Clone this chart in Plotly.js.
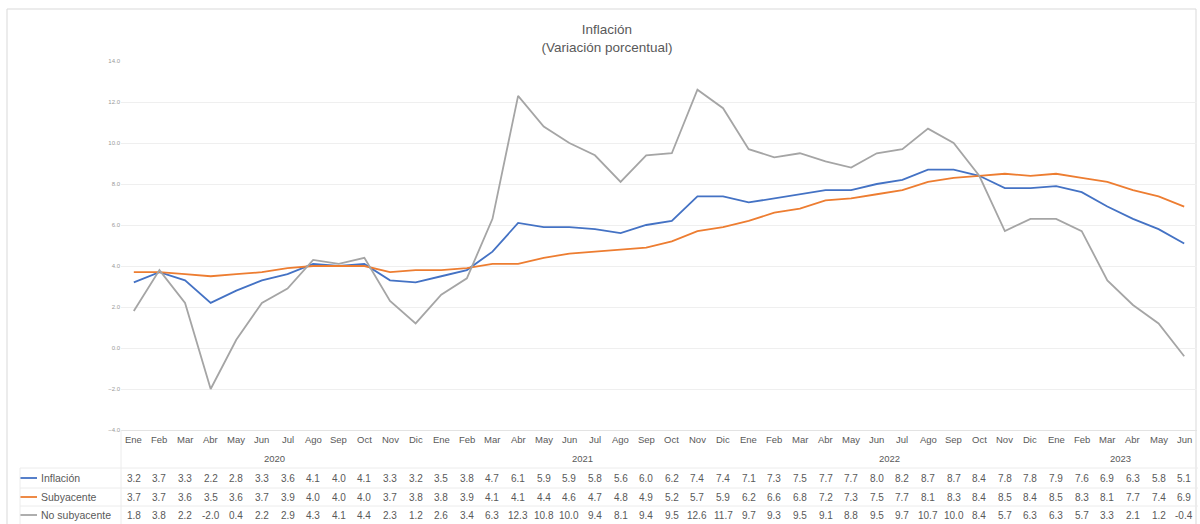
<!DOCTYPE html>
<html>
<head>
<meta charset="utf-8">
<script src="https://cdn.plot.ly/plotly-3.0.1.min.js"></script>
<style>html,body{margin:0;padding:0;background:#fff;}#chart{width:1200px;height:524px;}</style>
</head>
<body>
<div id="chart"></div>
<script>
const months = ['Ene','Feb','Mar','Abr','May','Jun','Jul','Ago','Sep','Oct','Nov','Dic',
                'Ene','Feb','Mar','Abr','May','Jun','Jul','Ago','Sep','Oct','Nov','Dic',
                'Ene','Feb','Mar','Abr','May','Jun','Jul','Ago','Sep','Oct','Nov','Dic',
                'Ene','Feb','Mar','Abr','May','Jun'];
const years = ['2020','2021','2022','2023'];
const monthsPerYear = [12, 12, 12, 6];
const inflacion = [3.2,3.7,3.3,2.2,2.8,3.3,3.6,4.1,4.0,4.1,3.3,3.2,
                   3.5,3.8,4.7,6.1,5.9,5.9,5.8,5.6,6.0,6.2,7.4,7.4,
                   7.1,7.3,7.5,7.7,7.7,8.0,8.2,8.7,8.7,8.4,7.8,7.8,
                   7.9,7.6,6.9,6.3,5.8,5.1];
const subyacente = [3.7,3.7,3.6,3.5,3.6,3.7,3.9,4.0,4.0,4.0,3.7,3.8,
                    3.8,3.9,4.1,4.1,4.4,4.6,4.7,4.8,4.9,5.2,5.7,5.9,
                    6.2,6.6,6.8,7.2,7.3,7.5,7.7,8.1,8.3,8.4,8.5,8.4,
                    8.5,8.3,8.1,7.7,7.4,6.9];
const noSubyacente = [1.8,3.8,2.2,-2.0,0.4,2.2,2.9,4.3,4.1,4.4,2.3,1.2,
                      2.6,3.4,6.3,12.3,10.8,10.0,9.4,8.1,9.4,9.5,12.6,11.7,
                      9.7,9.3,9.5,9.1,8.8,9.5,9.7,10.7,10.0,8.4,5.7,6.3,
                      6.3,5.7,3.3,2.1,1.2,-0.4];
const seriesNames = ['Inflación','Subyacente','No subyacente'];
const seriesColors = ['#4472C4','#ED7D31','#A5A5A5'];

const W = 1200, H = 524;
const mL = 121, mR = 3, mT = 61, mB = 94;
const pw = W - mL - mR, ph = H - mT - mB;
const px = v => (v - mL) / pw;          // pixel x -> paper x
const py = v => (H - mB - v) / ph;      // pixel y -> paper y

const idx = months.map((_, i) => i);
const seriesData = [inflacion, subyacente, noSubyacente];

const traces = seriesData.map((d, k) => ({
  x: idx, y: d, type: 'scatter', mode: 'lines', name: seriesNames[k],
  line: {color: seriesColors[k], width: 1.8}, hoverinfo: 'skip'
}));

const txtColor = '#595959';
const font = 'Liberation Sans, Arial, sans-serif';
const annotations = [];
const rowMonth = 439, rowYear = 458, rowSeries = [478, 497, 515];

months.forEach((m, i) => annotations.push({
  x: i, xref: 'x', y: py(rowMonth), yref: 'paper', text: m, showarrow: false,
  xanchor: 'center', yanchor: 'middle', font: {size: 9.5, color: txtColor, family: font}
}));
let start = 0;
years.forEach((yr, j) => {
  const c = start + (monthsPerYear[j] - 1) / 2;
  annotations.push({x: c, xref: 'x', y: py(rowYear), yref: 'paper', text: yr, showarrow: false,
    xanchor: 'center', yanchor: 'middle', font: {size: 9.5, color: txtColor, family: font}});
  start += monthsPerYear[j];
});
seriesData.forEach((d, k) => {
  d.forEach((v, i) => annotations.push({
    x: i, xref: 'x', y: py(rowSeries[k]), yref: 'paper', text: v.toFixed(1), showarrow: false,
    xanchor: 'center', yanchor: 'middle', font: {size: 10, color: txtColor, family: font}
  }));
  annotations.push({x: px(39), xref: 'paper', y: py(rowSeries[k]), yref: 'paper', text: seriesNames[k],
    showarrow: false, xanchor: 'left', yanchor: 'middle', font: {size: 10.5, color: txtColor, family: font}});
});

const shapes = [];
// outer chart border
shapes.push({type: 'rect', xref: 'paper', yref: 'paper', x0: px(7), x1: px(1196), y0: py(530), y1: py(9),
  line: {color: '#d9d9d9', width: 1}, layer: 'below'});
// legend keys
seriesColors.forEach((c, k) => shapes.push({type: 'line', xref: 'paper', yref: 'paper',
  x0: px(20), x1: px(37), y0: py(rowSeries[k]), y1: py(rowSeries[k]), line: {color: c, width: 1.8}}));
// faint table borders
const tb = '#ececec';
[468, 488, 506].forEach(yv => shapes.push({type: 'line', xref: 'paper', yref: 'paper',
  x0: px(20), x1: px(1198), y0: py(yv), y1: py(yv), line: {color: tb, width: 1}}));
shapes.push({type: 'line', xref: 'paper', yref: 'paper', x0: 0, x1: 0, y0: py(430), y1: py(524),
  line: {color: tb, width: 1}});
shapes.push({type: 'line', xref: 'paper', yref: 'paper', x0: px(20), x1: px(20), y0: py(468), y1: py(524),
  line: {color: tb, width: 1}});

const layout = {
  width: W, height: H,
  margin: {l: mL, r: mR, t: mT, b: mB, pad: 0},
  paper_bgcolor: '#ffffff', plot_bgcolor: '#ffffff',
  showlegend: false,
  title: {text: 'Inflación<br>(Variación porcentual)', x: 607 / W, xref: 'container', xanchor: 'center',
    y: 1 - 34 / H, yref: 'container', yanchor: 'middle',
    font: {size: 13.5, color: txtColor, family: font}},
  xaxis: {range: [-0.5, months.length - 0.5], showticklabels: false, showgrid: false, zeroline: false,
    showline: true, linecolor: '#e3e3e3', linewidth: 1, fixedrange: true},
  yaxis: {range: [-4, 14], dtick: 2, tick0: 0, tickformat: '.1f', showgrid: true, gridcolor: '#efefef',
    gridwidth: 1, zeroline: false, showline: false, ticks: '',
    tickfont: {size: 6, color: '#9a9a9a', family: font}, fixedrange: true},
  annotations: annotations,
  shapes: shapes
};

Plotly.newPlot('chart', traces, layout, {staticPlot: true, displayModeBar: false});
</script>
</body>
</html>
